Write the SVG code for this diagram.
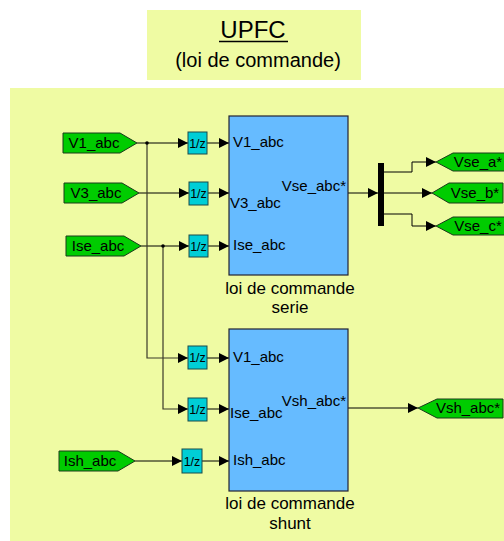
<svg xmlns="http://www.w3.org/2000/svg" width="504" height="541" viewBox="0 0 504 541">
<style>
text{font-family:"Liberation Sans",Arial,sans-serif;fill:#000}
.tag{fill:#00CC00;stroke:#1a3a1a;stroke-width:1}
.tt{font-size:15px;text-anchor:middle}
.dl{fill:#00CED6;stroke:#1a4a4a;stroke-width:1}
.dt{font-size:12.5px;text-anchor:middle}
.blk{fill:#66BBFF;stroke:#223;stroke-width:1.2}
.pl{font-size:15px}
.bl{font-size:17px;text-anchor:middle}
.w{fill:none;stroke:#000;stroke-width:1}
.b{fill:none;stroke:#3a3a2a;stroke-width:1.2}
</style>
<defs>
<marker id="ah" markerUnits="userSpaceOnUse" markerWidth="10" markerHeight="10" refX="10" refY="5" orient="auto">
<path d="M0,0 L10,5 L0,10 Z" fill="#000"/>
</marker>
</defs>
<rect id="bg" x="10" y="88" width="494" height="453" fill="#EFFBA3"/>
<g id="title">
<rect x="147" y="10" width="214" height="70" fill="#EFFBA3"/>
<text x="253" y="38" font-size="24" text-anchor="middle">UPFC</text>
<line x1="219" y1="41.5" x2="288" y2="41.5" stroke="#000" stroke-width="1.3"/>
<text x="258" y="67" font-size="20" text-anchor="middle">(loi de commande)</text>
</g>
<g id="connectors">
<polyline class="w" points="137,143 188,143" marker-end="url(#ah)"/>
<polyline class="w" points="139,193 189,193" marker-end="url(#ah)"/>
<polyline class="w" points="141,246 189,246" marker-end="url(#ah)"/>
<polyline class="w" points="207,143 229,143" marker-end="url(#ah)"/>
<polyline class="w" points="208,193 229,193" marker-end="url(#ah)"/>
<polyline class="w" points="208,246 229,246" marker-end="url(#ah)"/>
<polyline class="b" points="147,143 147,358 188,358" marker-end="url(#ah)"/>
<polyline class="b" points="163,246 163,409 188,409" marker-end="url(#ah)"/>
<circle cx="147" cy="143" r="1.8" fill="#000"/>
<circle cx="163" cy="246" r="1.8" fill="#000"/>
<polyline class="w" points="207,358 229,358" marker-end="url(#ah)"/>
<polyline class="w" points="207,409 229,409" marker-end="url(#ah)"/>
<polyline class="w" points="135,461 182,461" marker-end="url(#ah)"/>
<polyline class="w" points="202,461 229,461" marker-end="url(#ah)"/>
<polyline class="w" points="348,193 378,193" marker-end="url(#ah)"/>
<polyline class="w" points="384,172 412,172 412,162 436,162" marker-end="url(#ah)"/>
<polyline class="w" points="384,193 432,193" marker-end="url(#ah)"/>
<polyline class="w" points="384,214 412,214 412,226 436,226" marker-end="url(#ah)"/>
<polyline class="w" points="348,408 418,408" marker-end="url(#ah)"/>
</g>
<g id="V1_abc_in"><path class="tag" d="M63,133 H120 L137,143 L120,153 H63 Z"/><text class="tt" x="94" y="148">V1_abc</text></g>
<g id="V3_abc_in"><path class="tag" d="M64,183 H122 L139,193 L122,203 H64 Z"/><text class="tt" x="96" y="198">V3_abc</text></g>
<g id="Ise_abc_in"><path class="tag" d="M66,236 H124 L141,246 L124,256 H66 Z"/><text class="tt" x="98" y="251">Ise_abc</text></g>
<g id="Ish_abc_in"><path class="tag" d="M59,451 H118 L135,461 L118,471 H59 Z"/><text class="tt" x="90" y="466">Ish_abc</text></g>
<g id="delay1"><rect class="dl" x="188" y="132" width="19" height="22"/><text class="dt" x="197.5" y="147.5">1/z</text></g>
<g id="delay2"><rect class="dl" x="189" y="182" width="19" height="23"/><text class="dt" x="198.5" y="198">1/z</text></g>
<g id="delay3"><rect class="dl" x="189" y="235" width="19" height="22"/><text class="dt" x="198.5" y="250.5">1/z</text></g>
<g id="delay4"><rect class="dl" x="188" y="346" width="19" height="23"/><text class="dt" x="197.5" y="362">1/z</text></g>
<g id="delay5"><rect class="dl" x="188" y="398" width="19" height="23"/><text class="dt" x="197.5" y="414">1/z</text></g>
<g id="delay6"><rect class="dl" x="182" y="449" width="20" height="24"/><text class="dt" x="192" y="465.5">1/z</text></g>
<g id="serie">
<rect class="blk" x="229" y="116" width="119" height="159"/>
<text class="pl" x="233" y="147">V1_abc</text>
<text class="pl" x="230" y="208">V3_abc</text>
<text class="pl" x="233" y="250">Ise_abc</text>
<text class="pl" x="346" y="191" text-anchor="end">Vse_abc*</text>
<text class="bl" x="290" y="294">loi de commande</text>
<text class="bl" x="290" y="313">serie</text>
</g>
<g id="shunt">
<rect class="blk" x="229" y="329" width="119" height="162"/>
<text class="pl" x="233" y="362">V1_abc</text>
<text class="pl" x="230" y="418">Ise_abc</text>
<text class="pl" x="233" y="465">Ish_abc</text>
<text class="pl" x="346" y="406" text-anchor="end">Vsh_abc*</text>
<text class="bl" x="290" y="509">loi de commande</text>
<text class="bl" x="290" y="529">shunt</text>
</g>
<g id="demux"><rect x="378" y="163" width="6" height="63" fill="#000"/></g>
<g id="Vse_a_out"><path class="tag" d="M436,162 L453,153 H510 V171 H453 Z"/><text class="tt" x="478" y="167">Vse_a*</text></g>
<g id="Vse_b_out"><path class="tag" d="M432,193 L449,183 H503 V203 H449 Z"/><text class="tt" x="475" y="198">Vse_b*</text></g>
<g id="Vse_c_out"><path class="tag" d="M436,226 L453,217 H510 V235 H453 Z"/><text class="tt" x="478" y="231">Vse_c*</text></g>
<g id="Vsh_abc_out"><path class="tag" d="M418,408 L437,399 H503 V418 H437 Z"/><text class="tt" x="468" y="413">Vsh_abc*</text></g>
</svg>
